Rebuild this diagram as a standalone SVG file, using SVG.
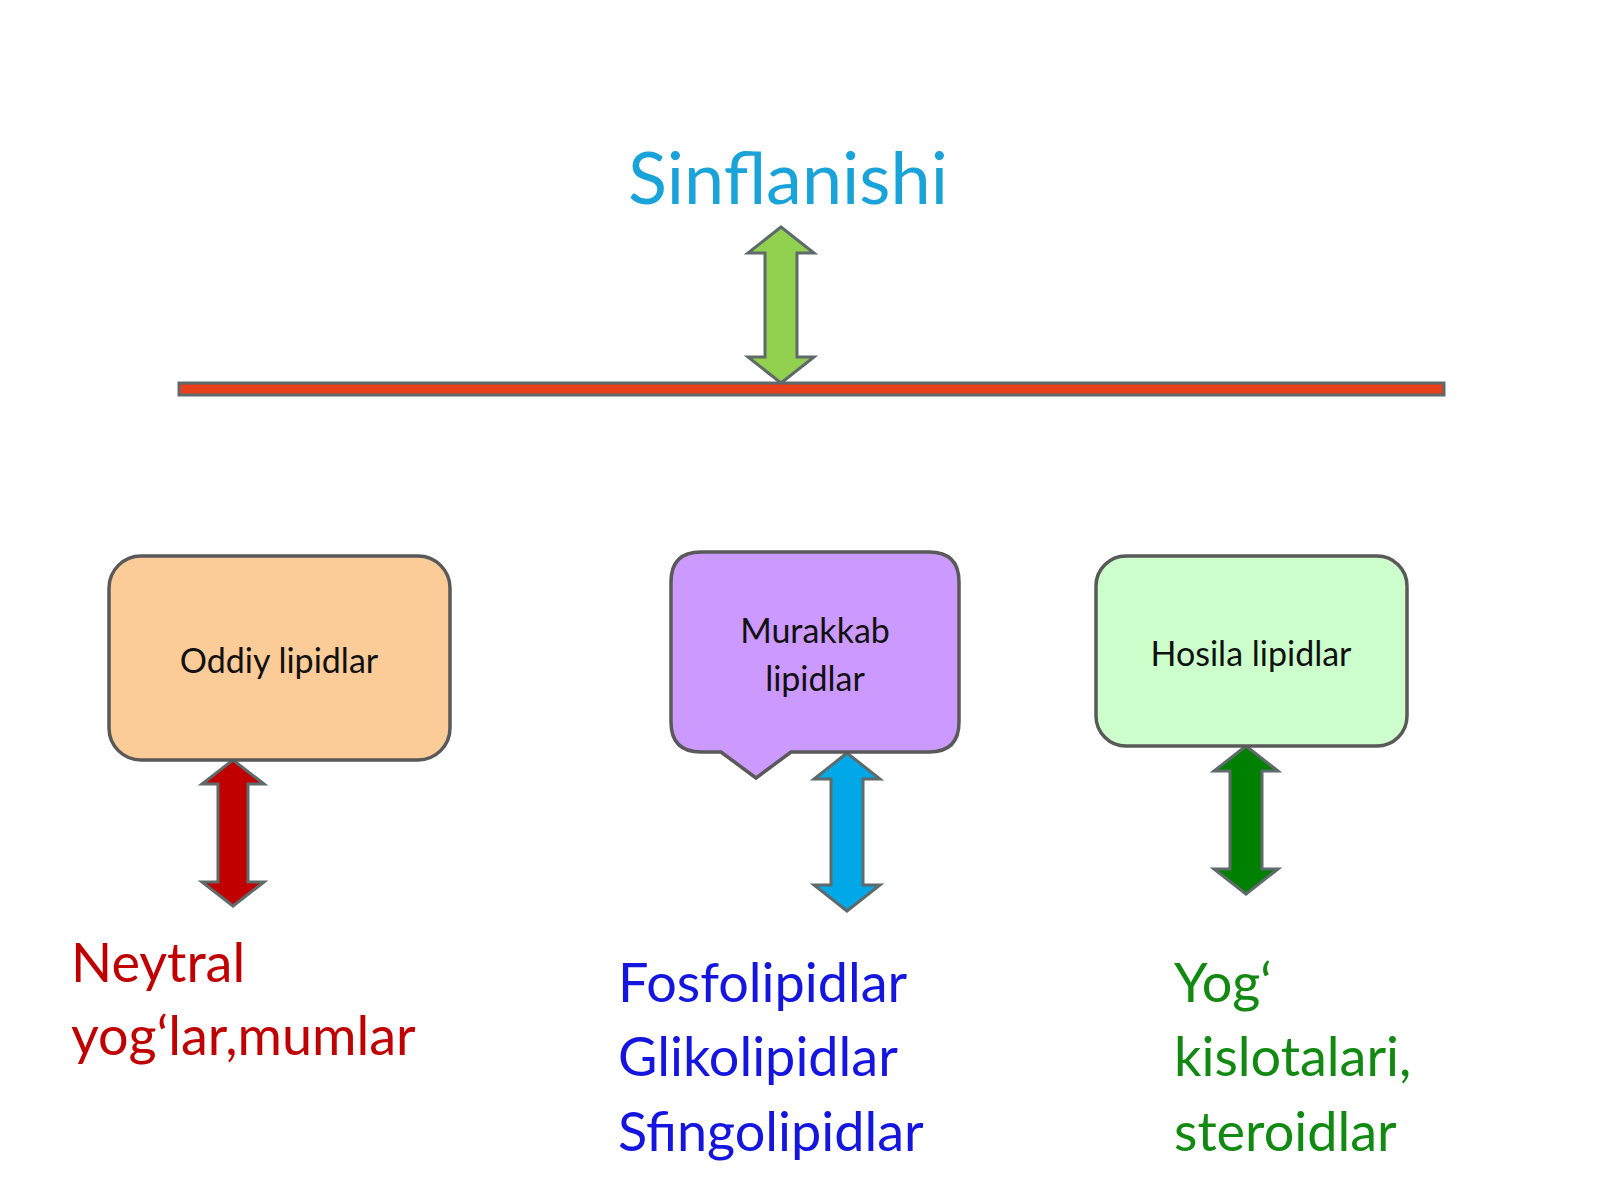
<svg xmlns="http://www.w3.org/2000/svg" width="1600" height="1200" viewBox="0 0 1600 1200">
<style>
text{font-family:Lato,"Liberation Sans",sans-serif}
.box{stroke:#595959;stroke-width:3.5}
.arr{stroke:#5f6a6a;stroke-width:3;stroke-linejoin:miter}
.lbl{font-size:34px;fill:#111;text-anchor:middle}
.big{font-size:54px}
</style>
<rect width="1600" height="1200" fill="#fff"/>
<text x="788" y="204" font-size="72" fill="#1aa3d8" text-anchor="middle">Sinflanishi</text>
<g id="connectors">
<rect x="179" y="383" width="1265" height="12" fill="#e8401c" stroke="#5f6a6a" stroke-width="3"/>
<path class="arr" fill="#92d050" d="M781,227 L814,253 L797,253 L797,357 L814,357 L781,383 L748,357 L765,357 L765,253 L748,253Z"/>
<path class="arr" fill="#c00000" d="M233,760 L264,784 L248,784 L248,882 L264,882 L233,906 L202,882 L218,882 L218,784 L202,784Z"/>
<path class="arr" fill="#00a8e8" d="M847,753 L880,779 L863,779 L863,885 L880,885 L847,911 L814,885 L831,885 L831,779 L814,779Z"/>
<path class="arr" fill="#008000" d="M1246,746 L1278,771 L1262,771 L1262,869 L1278,869 L1246,894 L1214,869 L1230,869 L1230,771 L1214,771Z"/>
</g>
<g id="oddiy">
<rect class="box" x="109" y="556" width="341" height="204" rx="32" fill="#fbcb98"/>
<text class="lbl" x="279" y="673">Oddiy lipidlar</text>
</g>
<g id="murakkab">
<path class="box" fill="#cc99ff" d="M701,552 H929 Q959,552 959,582 V722 Q959,752 929,752 H791 L756,778 L721,752 H701 Q671,752 671,722 V582 Q671,552 701,552Z"/>
<text class="lbl" x="815" y="643">Murakkab</text>
<text class="lbl" x="815" y="691">lipidlar</text>
</g>
<g id="hosila">
<rect class="box" x="1096" y="556" width="311" height="190" rx="30" fill="#ccffcc"/>
<text class="lbl" x="1251" y="666">Hosila lipidlar</text>
</g>
<g id="neytral" class="big" fill="#c00000">
<text x="71" y="982" class="big">Neytral</text>
<text x="71" y="1055" class="big">yog‘lar,mumlar</text>
</g>
<g id="fosfo" fill="#1515e0">
<text x="618" y="1002" class="big">Fosfolipidlar</text>
<text x="618" y="1076" class="big">Glikolipidlar</text>
<text x="618" y="1151" class="big">Sfingolipidlar</text>
</g>
<g id="yog" fill="#128a12">
<text x="1174" y="1002" class="big">Yog‘</text>
<text x="1174" y="1076" class="big">kislotalari,</text>
<text x="1174" y="1151" class="big">steroidlar</text>
</g>
</svg>
